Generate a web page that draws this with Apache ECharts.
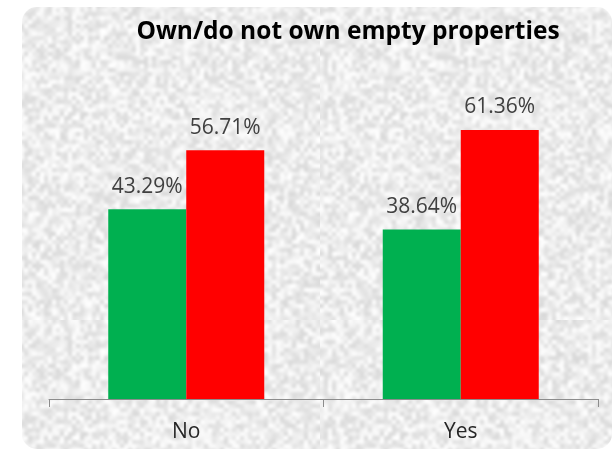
<!DOCTYPE html>
<html>
<head>
<meta charset="utf-8">
<script src="https://cdn.jsdelivr.net/npm/echarts@6/dist/echarts.min.js"></script>
<style>
  html, body { margin: 0; padding: 0; background: #ffffff; }
  #chart { width: 615px; height: 451px; }
</style>
</head>
<body>
<div id="chart"></div>
<script>
// Survey answers: share of respondents per group
const categories = ['No', 'Yes'];
const greenValues = [43.29, 38.64];
const redValues = [56.71, 61.36];
const titleText = 'Own/do not own empty properties';

// Granite-like paper texture for the panel background (deterministic noise)
function makeTexture() {
  const size = 80;
  const small = document.createElement('canvas');
  small.width = size; small.height = size;
  const sctx = small.getContext('2d');
  const img = sctx.createImageData(size, size);
  let seed = 12345;
  const rnd = () => { seed = (seed * 1103515245 + 12345) & 0x7fffffff; return seed / 0x7fffffff; };
  for (let i = 0; i < size * size; i++) {
    const v = Math.round(218 + rnd() * 36);
    img.data[i * 4] = v; img.data[i * 4 + 1] = v; img.data[i * 4 + 2] = v; img.data[i * 4 + 3] = 255;
  }
  sctx.putImageData(img, 0, 0);
  const big = document.createElement('canvas');
  big.width = size * 4; big.height = size * 4;
  const bctx = big.getContext('2d');
  bctx.imageSmoothingEnabled = true;
  bctx.imageSmoothingQuality = 'high';
  bctx.drawImage(small, 0, 0, size * 4, size * 4);
  return big;
}

const chart = echarts.init(document.getElementById('chart'), null, { renderer: 'canvas' });
const labelStyle = {
  show: true,
  position: 'top',
  distance: 12,
  formatter: p => p.value.toFixed(2) + '%',
  fontFamily: 'Open Sans',
  fontSize: 21,
  color: '#404040'
};

chart.setOption({
  backgroundColor: '#ffffff',
  animation: false,
  graphic: [{
    type: 'rect',
    z: -10,
    silent: true,
    shape: { x: 22, y: 7, width: 590, height: 442, r: 15 },
    style: { fill: { image: makeTexture(), repeat: 'repeat' } }
  }],
  title: {
    text: titleText,
    left: 343,
    textAlign: 'center',
    top: 15,
    textStyle: { fontFamily: 'Open Sans', fontWeight: 'bold', fontSize: 24.5, color: '#000000' }
  },
  grid: { left: 49, right: 17, top: 92, bottom: 52 },
  xAxis: {
    type: 'category',
    data: categories,
    axisLine: { lineStyle: { color: '#8c8c8c', width: 1 } },
    axisTick: { show: true, length: 8, lineStyle: { color: '#8c8c8c' } },
    axisLabel: { margin: 23, fontFamily: 'Open Sans', fontSize: 21, color: '#262626' }
  },
  yAxis: {
    type: 'value',
    min: 0,
    max: 70,
    show: false,
    splitLine: { show: false }
  },
  series: [
    {
      type: 'bar',
      data: greenValues,
      barWidth: 78,
      barGap: '0%',
      itemStyle: { color: '#00b050' },
      label: labelStyle
    },
    {
      type: 'bar',
      data: redValues,
      barWidth: 78,
      barGap: '0%',
      itemStyle: { color: '#ff0000' },
      label: labelStyle
    }
  ]
});
</script>
</body>
</html>
